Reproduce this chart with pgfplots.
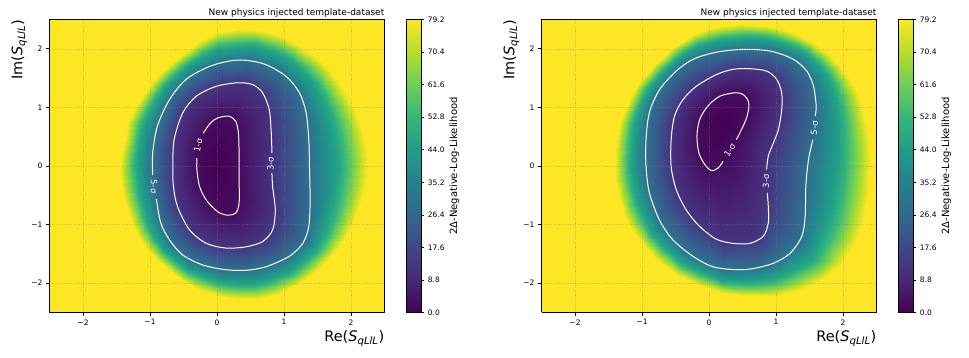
\documentclass[border=0pt]{standalone}
\usepackage{pgfplots}
\pgfplotsset{compat=1.18}
\usepackage{pgfplotstable}
\usepackage{fontspec}
\setmainfont{DejaVu Sans}

% Left panel: rings centre (0), 1-sigma (2.3), 3-sigma (11.8), 5-sigma (28.7), intermediate (47), saturation edge (79.2)
\pgfplotstableread{
x y v
0.02 0 0
0.02 0 0
0.02 0 0
0.02 0 0
0.02 0 0
0.02 0 0
0.02 0 0
0.02 0 0
0.02 0 0
0.02 0 0
0.02 0 0
0.02 0 0
0.02 0 0
0.02 0 0
0.02 0 0
0.02 0 0
0.02 0 0
0.02 0 0
0.02 0 0
0.02 0 0
0.02 0 0
0.02 0 0
0.02 0 0
0.02 0 0
0.02 0 0
0.02 0 0
0.02 0 0
0.02 0 0
0.02 0 0
0.02 0 0
0.02 0 0
0.02 0 0
0.02 0 0
0.02 0 0
0.02 0 0
0.02 0 0
0.02 0 0
0.02 0 0
0.02 0 0
0.02 0 0
0.02 0 0
0.02 0 0
0.02 0 0
0.02 0 0
0.02 0 0
0.02 0 0
0.02 0 0
0.02 0 0
0.02 0 0
0.33 0 2.3
0.33 0.0415 2.3
0.33 0.083 2.3
0.33 0.131 2.3
0.33 0.179 2.3
0.33 0.2445 2.3
0.33 0.31 2.3
0.33 0.4235 2.3
0.33 0.537 2.3
0.2825 0.6685 2.3
0.235 0.80 2.3
0.1275 0.8125 2.3
0.02 0.825 2.3
-0.0645 0.7265 2.3
-0.149 0.628 2.3
-0.195 0.5405 2.3
-0.241 0.453 2.3
-0.2625 0.3785 2.3
-0.284 0.304 2.3
-0.29 0.243 2.3
-0.296 0.182 2.3
-0.298 0.134 2.3
-0.30 0.086 2.3
-0.30 0.043 2.3
-0.30 0 2.3
-0.2985 -0.0425 2.3
-0.297 -0.085 2.3
-0.2905 -0.13 2.3
-0.284 -0.175 2.3
-0.276 -0.232 2.3
-0.268 -0.289 2.3
-0.2475 -0.358 2.3
-0.227 -0.427 2.3
-0.184 -0.5145 2.3
-0.141 -0.602 2.3
-0.0605 -0.693 2.3
0.02 -0.784 2.3
0.129 -0.799 2.3
0.238 -0.814 2.3
0.284 -0.6755 2.3
0.33 -0.537 2.3
0.33 -0.4235 2.3
0.33 -0.31 2.3
0.33 -0.2445 2.3
0.33 -0.179 2.3
0.33 -0.131 2.3
0.33 -0.083 2.3
0.33 -0.0415 2.3
0.33 0 2.3
0.80 0 11.8
0.81 0.107 11.8
0.82 0.214 11.8
0.815 0.335 11.8
0.81 0.456 11.8
0.8025 0.6155 11.8
0.795 0.775 11.8
0.749 0.979 11.8
0.703 1.183 11.8
0.55 1.2955 11.8
0.397 1.408 11.8
0.2085 1.387 11.8
0.02 1.366 11.8
-0.14 1.2805 11.8
-0.30 1.195 11.8
-0.4025 1.055 11.8
-0.505 0.915 11.8
-0.5495 0.7645 11.8
-0.594 0.614 11.8
-0.6185 0.4985 11.8
-0.643 0.383 11.8
-0.6475 0.2815 11.8
-0.652 0.18 11.8
-0.656 0.09 11.8
-0.66 0 11.8
-0.6575 -0.0905 11.8
-0.655 -0.181 11.8
-0.6495 -0.2825 11.8
-0.644 -0.384 11.8
-0.623 -0.503 11.8
-0.602 -0.622 11.8
-0.5495 -0.759 11.8
-0.497 -0.896 11.8
-0.398 -1.044 11.8
-0.299 -1.192 11.8
-0.1395 -1.271 11.8
0.02 -1.35 11.8
0.206 -1.37 11.8
0.392 -1.39 11.8
0.56 -1.308 11.8
0.728 -1.226 11.8
0.7935 -1.0325 11.8
0.859 -0.839 11.8
0.8505 -0.657 11.8
0.842 -0.475 11.8
0.833 -0.346 11.8
0.824 -0.217 11.8
0.812 -0.1085 11.8
0.80 0 11.8
1.38 0 28.7
1.376 0.181 28.7
1.372 0.362 28.7
1.357 0.5625 28.7
1.342 0.763 28.7
1.2905 0.991 28.7
1.239 1.219 28.7
1.089 1.405 28.7
0.939 1.591 28.7
0.719 1.6905 28.7
0.499 1.79 28.7
0.2595 1.764 28.7
0.02 1.738 28.7
-0.1845 1.6315 28.7
-0.389 1.525 28.7
-0.528 1.3575 28.7
-0.667 1.19 28.7
-0.7455 1.017 28.7
-0.824 0.844 28.7
-0.868 0.6905 28.7
-0.912 0.537 28.7
-0.933 0.399 28.7
-0.954 0.261 28.7
-0.957 0.1305 28.7
-0.96 0 28.7
-0.9545 -0.13 28.7
-0.949 -0.26 28.7
-0.9285 -0.3975 28.7
-0.908 -0.535 28.7
-0.8815 -0.705 28.7
-0.855 -0.875 28.7
-0.7825 -1.0675 28.7
-0.71 -1.26 28.7
-0.557 -1.42 28.7
-0.404 -1.58 28.7
-0.192 -1.662 28.7
0.02 -1.744 28.7
0.257 -1.7555 28.7
0.494 -1.767 28.7
0.721 -1.6875 28.7
0.948 -1.608 28.7
1.121 -1.441 28.7
1.294 -1.274 28.7
1.3375 -1.0295 28.7
1.381 -0.785 28.7
1.3835 -0.576 28.7
1.386 -0.367 28.7
1.383 -0.1835 28.7
1.38 0 28.7
1.815 0 47
1.806 0.2365 47
1.779 0.472 47
1.729 0.712 47
1.664 0.948 47
1.567 1.195 47
1.454 1.434 47
1.274 1.641 47
1.078 1.832 47
0.8295 1.959 47
0.571 2.058 47
0.294 2.0535 47
0.02 2.012 47
-0.219 1.881 47
-0.444 1.729 47
-0.6155 1.552 47
-0.772 1.372 47
-0.883 1.187 47
-0.983 1.003 47
-1.057 0.830 47
-1.119 0.657 47
-1.149 0.4875 47
-1.172 0.319 47
-1.1915 0.159 47
-1.205 0 47
-1.198 -0.161 47
-1.182 -0.323 47
-1.155 -0.489 47
-1.120 -0.657 47
-1.073 -0.846 47
-1.015 -1.035 47
-0.918 -1.233 47
-0.806 -1.428 47
-0.6375 -1.6015 47
-0.454 -1.767 47
-0.2235 -1.885 47
0.02 -1.984 47
0.289 -2.017 47
0.561 -2.018 47
0.821 -1.934 47
1.071 -1.821 47
1.276 -1.6415 47
1.466 -1.446 47
1.577 -1.204 47
1.672 -0.953 47
1.729 -0.7135 47
1.772 -0.470 47
1.8015 -0.236 47
1.815 0 47
2.25 0 79.2
2.236 0.292 79.2
2.186 0.581 79.2
2.101 0.861 79.2
1.985 1.133 79.2
1.843 1.399 79.2
1.669 1.649 79.2
1.459 1.877 79.2
1.216 2.072 79.2
0.940 2.228 79.2
0.643 2.326 79.2
0.328 2.343 79.2
0.02 2.285 79.2
-0.254 2.130 79.2
-0.498 1.933 79.2
-0.703 1.746 79.2
-0.876 1.553 79.2
-1.021 1.357 79.2
-1.141 1.161 79.2
-1.246 0.969 79.2
-1.325 0.776 79.2
-1.365 0.576 79.2
-1.389 0.377 79.2
-1.426 0.188 79.2
-1.45 0 79.2
-1.442 -0.192 79.2
-1.416 -0.386 79.2
-1.381 -0.581 79.2
-1.331 -0.779 79.2
-1.265 -0.987 79.2
-1.175 -1.195 79.2
-1.053 -1.399 79.2
-0.901 -1.596 79.2
-0.718 -1.783 79.2
-0.504 -1.954 79.2
-0.255 -2.108 79.2
0.02 -2.223 79.2
0.321 -2.278 79.2
0.628 -2.269 79.2
0.921 -2.180 79.2
1.194 -2.033 79.2
1.431 -1.842 79.2
1.638 -1.618 79.2
1.816 -1.378 79.2
1.963 -1.121 79.2
2.075 -0.851 79.2
2.157 -0.572 79.2
2.220 -0.288 79.2
2.25 0 79.2
}\meshL

% Right panel
\pgfplotstableread{
x y v
0.2 0.7 0
0.2 0.7 0
0.2 0.7 0
0.2 0.7 0
0.2 0.7 0
0.2 0.7 0
0.2 0.7 0
0.2 0.7 0
0.2 0.7 0
0.2 0.7 0
0.2 0.7 0
0.2 0.7 0
0.2 0.7 0
0.2 0.7 0
0.2 0.7 0
0.2 0.7 0
0.2 0.7 0
0.2 0.7 0
0.2 0.7 0
0.2 0.7 0
0.2 0.7 0
0.2 0.7 0
0.2 0.7 0
0.2 0.7 0
0.2 0.7 0
0.2 0.7 0
0.2 0.7 0
0.2 0.7 0
0.2 0.7 0
0.2 0.7 0
0.2 0.7 0
0.2 0.7 0
0.2 0.7 0
0.2 0.7 0
0.2 0.7 0
0.2 0.7 0
0.2 0.7 0
0.2 0.7 0
0.2 0.7 0
0.2 0.7 0
0.2 0.7 0
0.2 0.7 0
0.2 0.7 0
0.2 0.7 0
0.2 0.7 0
0.2 0.7 0
0.2 0.7 0
0.2 0.7 0
0.2 0.7 0
0.517 0.70 2.3
0.5335 0.7465 2.3
0.55 0.793 2.3
0.5655 0.8565 2.3
0.581 0.92 2.3
0.5855 1.005 2.3
0.59 1.09 2.3
0.5475 1.1585 2.3
0.505 1.227 2.3
0.4245 1.2325 2.3
0.344 1.238 2.3
0.272 1.219 2.3
0.2 1.2 2.3
0.1435 1.1605 2.3
0.087 1.121 2.3
0.045 1.0815 2.3
0.003 1.042 2.3
-0.0255 0.998 2.3
-0.054 0.954 2.3
-0.0755 0.913 2.3
-0.097 0.872 2.3
-0.1185 0.831 2.3
-0.14 0.79 2.3
-0.1465 0.745 2.3
-0.153 0.70 2.3
-0.16 0.651 2.3
-0.167 0.602 2.3
-0.172 0.542 2.3
-0.177 0.482 2.3
-0.1695 0.41 2.3
-0.162 0.338 2.3
-0.14 0.2435 2.3
-0.118 0.149 2.3
-0.0585 0.054 2.3
0.001 -0.041 2.3
0.1005 0.0115 2.3
0.2 0.064 2.3
0.255 0.172 2.3
0.31 0.28 2.3
0.3435 0.337 2.3
0.377 0.394 2.3
0.3995 0.436 2.3
0.422 0.478 2.3
0.4385 0.5155 2.3
0.455 0.553 2.3
0.47 0.588 2.3
0.485 0.623 2.3
0.501 0.6615 2.3
0.517 0.70 2.3
1.047 0.70 11.8
1.064 0.818 11.8
1.081 0.936 11.8
1.083 1.0735 11.8
1.085 1.211 11.8
1.04 1.353 11.8
0.995 1.495 11.8
0.8685 1.567 11.8
0.742 1.639 11.8
0.599 1.6465 11.8
0.456 1.654 11.8
0.328 1.623 11.8
0.2 1.592 11.8
0.0955 1.5365 11.8
-0.009 1.481 11.8
-0.096 1.4225 11.8
-0.183 1.364 11.8
-0.2495 1.29 11.8
-0.316 1.216 11.8
-0.369 1.1375 11.8
-0.422 1.059 11.8
-0.4605 0.973 11.8
-0.499 0.887 11.8
-0.5165 0.7935 11.8
-0.534 0.70 11.8
-0.5465 0.598 11.8
-0.559 0.496 11.8
-0.562 0.377 11.8
-0.565 0.258 11.8
-0.5605 0.101 11.8
-0.556 -0.056 11.8
-0.5115 -0.2555 11.8
-0.467 -0.455 11.8
-0.3485 -0.6795 11.8
-0.23 -0.904 11.8
-0.015 -1.0895 11.8
0.2 -1.275 11.8
0.4615 -1.2635 11.8
0.723 -1.252 11.8
0.7965 -0.856 11.8
0.87 -0.46 11.8
0.87 -0.215 11.8
0.87 0.03 11.8
0.897 0.1565 11.8
0.924 0.283 11.8
0.958 0.3855 11.8
0.992 0.488 11.8
1.0195 0.594 11.8
1.047 0.70 11.8
1.585 0.70 28.7
1.5895 0.8865 28.7
1.594 1.073 28.7
1.5575 1.2675 28.7
1.521 1.462 28.7
1.4055 1.626 28.7
1.29 1.79 28.7
1.1075 1.8725 28.7
0.925 1.955 28.7
0.735 1.9705 28.7
0.545 1.986 28.7
0.3725 1.9695 28.7
0.2 1.953 28.7
0.0435 1.91 28.7
-0.113 1.867 28.7
-0.247 1.787 28.7
-0.381 1.707 28.7
-0.486 1.599 28.7
-0.591 1.491 28.7
-0.6745 1.372 28.7
-0.758 1.253 28.7
-0.8095 1.119 28.7
-0.861 0.985 28.7
-0.887 0.8425 28.7
-0.913 0.70 28.7
-0.9265 0.5475 28.7
-0.94 0.395 28.7
-0.94 0.2185 28.7
-0.94 0.042 28.7
-0.9185 -0.1775 28.7
-0.897 -0.397 28.7
-0.8175 -0.661 28.7
-0.738 -0.925 28.7
-0.553 -1.1725 28.7
-0.368 -1.42 28.7
-0.084 -1.58 28.7
0.2 -1.74 28.7
0.521 -1.7175 28.7
0.842 -1.695 28.7
1.091 -1.4845 28.7
1.34 -1.274 28.7
1.3905 -0.9075 28.7
1.441 -0.541 28.7
1.4565 -0.2875 28.7
1.472 -0.034 28.7
1.501 0.155 28.7
1.53 0.344 28.7
1.5575 0.522 28.7
1.585 0.70 28.7
1.973 0.70 47
1.947 0.932 47
1.908 1.157 47
1.830 1.378 47
1.739 1.588 47
1.595 1.771 47
1.439 1.939 47
1.237 2.046 47
1.030 2.137 47
0.816 2.176 47
0.602 2.199 47
0.399 2.192 47
0.2 2.171 47
0.014 2.1235 47
-0.165 2.062 47
-0.321 1.964 47
-0.468 1.857 47
-0.5895 1.732 47
-0.705 1.605 47
-0.807 1.4725 47
-0.904 1.337 47
-0.973 1.187 47
-1.037 1.032 47
-1.086 0.868 47
-1.129 0.70 47
-1.152 0.520 47
-1.168 0.334 47
-1.175 0.125 47
-1.172 -0.092 47
-1.139 -0.338 47
-1.089 -0.589 47
-0.987 -0.866 47
-0.863 -1.140 47
-0.6565 -1.396 47
-0.426 -1.636 47
-0.1215 -1.809 47
0.2 -1.954 47
0.554 -1.972 47
0.911 -1.953 47
1.230 -1.799 47
1.530 -1.604 47
1.692 -1.276 47
1.819 -0.919 47
1.886 -0.608 47
1.925 -0.295 47
1.9545 -0.030 47
1.971 0.226 47
1.977 0.4665 47
1.973 0.70 47
2.36 0.70 79.2
2.304 0.978 79.2
2.221 1.241 79.2
2.103 1.488 79.2
1.957 1.714 79.2
1.784 1.916 79.2
1.587 2.087 79.2
1.367 2.220 79.2
1.134 2.318 79.2
0.897 2.381 79.2
0.659 2.412 79.2
0.426 2.415 79.2
0.2 2.389 79.2
-0.016 2.337 79.2
-0.217 2.257 79.2
-0.395 2.141 79.2
-0.554 2.006 79.2
-0.693 1.865 79.2
-0.818 1.718 79.2
-0.940 1.573 79.2
-1.049 1.421 79.2
-1.137 1.255 79.2
-1.212 1.078 79.2
-1.285 0.894 79.2
-1.344 0.70 79.2
-1.378 0.493 79.2
-1.396 0.272 79.2
-1.410 0.031 79.2
-1.403 -0.225 79.2
-1.360 -0.498 79.2
-1.28 -0.78 79.2
-1.157 -1.071 79.2
-0.987 -1.355 79.2
-0.760 -1.620 79.2
-0.484 -1.852 79.2
-0.159 -2.038 79.2
0.2 -2.167 79.2
0.587 -2.226 79.2
0.98 -2.21 79.2
1.369 -2.114 79.2
1.72 -1.933 79.2
1.994 -1.644 79.2
2.197 -1.297 79.2
2.315 -0.928 79.2
2.377 -0.556 79.2
2.408 -0.215 79.2
2.411 0.107 79.2
2.396 0.411 79.2
2.36 0.70 79.2
}\meshR

\pgfplotsset{
  nllaxis/.style={
    colormap={vir}{rgb255=(68,1,84) rgb255=(72,40,120) rgb255=(62,73,137) rgb255=(49,104,142) rgb255=(38,130,142) rgb255=(31,158,137) rgb255=(53,183,121) rgb255=(110,206,88) rgb255=(181,222,43) rgb255=(253,231,37)},
    view={0}{90},
    scale only axis, width=335pt, height=293pt,
    xmin=-2.5, xmax=2.5, ymin=-2.5, ymax=2.5, zmin=0, zmax=80,
    xtick={-2,-1,0,1,2}, ytick={-2,-1,0,1,2}, ztick=\empty,
    xticklabels={−2,−1,0,1,2}, yticklabels={−2,−1,0,1,2},
    tick label style={font=\fontsize{7.5}{9}\selectfont},
    tick align=outside, major tick length=3.5pt,
    tick style={black, line width=0.6pt},
    tick pos=left,
    grid=major,
    grid style={gray, opacity=0.35, line width=0.5pt, dash pattern=on 1.2pt off 1.2pt},
    axis on top,
    axis line style={black, line width=0.8pt},
    point meta min=0, point meta max=79.2,
    title={New physics injected template-dataset},
    every axis title/.style={at={(axis description cs:1,1)}, anchor=south east, inner sep=0pt, yshift=2pt, font=\fontsize{9}{10}\selectfont},
    xlabel={Re(\textit{S}\textsubscript{\textit{qLlL}})},
    ylabel={Im(\textit{S}\textsubscript{\textit{qLlL}})},
    every axis x label/.style={at={(axis description cs:1,-0.0614)}, anchor=north east, inner sep=0pt, font=\fontsize{14.5}{16}\selectfont},
    every axis y label/.style={at={(axis description cs:-0.0657,1)}, rotate=90, anchor=south east, inner sep=0pt, font=\fontsize{14.5}{16}\selectfont},
    colorbar,
    colorbar style={
      width=14.7pt,
      at={(parent axis.north east)}, anchor=north west, xshift=13.7pt,
      ytick={0,8.8,17.6,26.4,35.2,44,52.8,61.6,70.4,79.2},
      yticklabels={0.0,8.8,17.6,26.4,35.2,44.0,52.8,61.6,70.4,79.2},
      yticklabel style={font=\fontsize{7.5}{9}\selectfont},
      ytick pos=right,
      tick align=outside, major tick length=3pt,
      tick style={black, line width=0.6pt},
      axis line style={black, line width=0.8pt},
      ylabel={2Δ-Negative-Log-Likelihood},
      every axis y label/.style={at={(axis description cs:2.905,0.5)}, rotate=90, anchor=north, inner sep=0pt, font=\fontsize{10}{12}\selectfont},
    },
  },
  cline/.style={white, line width=1pt, smooth, tension=0.5},
}
\tikzset{clab/.style={text=white, font=\fontsize{8.5}{9}\selectfont, inner sep=0pt}}

\begin{document}
\begin{tikzpicture}
\useasboundingbox (0,0) rectangle (969pt,358pt);

% ---------------- left panel ----------------
\begin{axis}[nllaxis, at={(49.5pt,45.5pt)}, anchor=south west]
\addplot3[surf, shader=flat, mesh/rows=2, mesh/cols=2, point meta=z] coordinates {
(-2.5,-2.5,79.2) (2.5,-2.5,79.2)
(-2.5,2.5,79.2) (2.5,2.5,79.2)};
\addplot3[surf, shader=interp, mesh/rows=6, mesh/cols=49, point meta=\thisrow{v}] table[x=x, y=y, z=v] {\meshL};
% 1-sigma
\addplot3[cline] coordinates {(-0.205,0.56,0) (-0.10,0.73,0) (0.01,0.82,0) (0.18,0.85,0) (0.28,0.76,0) (0.32,0.56,0) (0.33,0.2,0) (0.33,-0.2,0) (0.33,-0.63,0) (0.28,-0.80,0) (0.16,-0.84,0) (0.01,-0.78,0) (-0.16,-0.58,0) (-0.26,-0.35,0) (-0.30,-0.06,0) (-0.30,0.14,0)};
% 3-sigma
\addplot3[cline] coordinates {(0.82,-0.12,0) (0.83,-0.35,0) (0.87,-0.75,0) (0.83,-1.09,0) (0.68,-1.29,0) (0.43,-1.38,0) (0.13,-1.40,0) (-0.16,-1.32,0) (-0.41,-1.09,0) (-0.59,-0.69,0) (-0.65,-0.35,0) (-0.66,-0.01,0) (-0.64,0.45,0) (-0.51,0.91,0) (-0.31,1.19,0) (-0.01,1.36,0) (0.31,1.42,0) (0.53,1.39,0) (0.68,1.25,0) (0.78,0.96,0) (0.81,0.56,0) (0.82,0.22,0)};
% 5-sigma
\addplot3[cline] coordinates {(-0.905,-0.56,0) (-0.84,-0.97,0) (-0.71,-1.26,0) (-0.51,-1.52,0) (-0.21,-1.69,0) (0.13,-1.77,0) (0.43,-1.78,0) (0.73,-1.72,0) (1.08,-1.54,0) (1.28,-1.32,0) (1.37,-1.03,0) (1.39,-0.58,0) (1.38,-0.01,0) (1.37,0.45,0) (1.33,0.91,0) (1.23,1.25,0) (1.03,1.53,0) (0.73,1.73,0) (0.46,1.80,0) (0.23,1.80,0) (-0.11,1.70,0) (-0.46,1.48,0) (-0.71,1.13,0) (-0.89,0.68,0) (-0.96,0.22,0) (-0.96,-0.15,0)};
\node[clab, rotate=78] at (axis cs:-0.28,0.35,0) {1-σ};
\node[clab, rotate=90] at (axis cs:0.80,0.04,0) {3-σ};
\node[clab, rotate=-90] at (axis cs:-0.94,-0.35,0) {5-σ};
\end{axis}

% ---------------- right panel ----------------
\begin{axis}[nllaxis, at={(541.5pt,45.5pt)}, anchor=south west]
\addplot3[surf, shader=flat, mesh/rows=2, mesh/cols=2, point meta=z] coordinates {
(-2.5,-2.5,79.2) (2.5,-2.5,79.2)
(-2.5,2.5,79.2) (2.5,2.5,79.2)};
\addplot3[surf, shader=interp, mesh/rows=6, mesh/cols=49, point meta=\thisrow{v}] table[x=x, y=y, z=v] {\meshR};
% 1-sigma
\addplot3[cline] coordinates {(0.41,0.45,0) (0.51,0.68,0) (0.56,0.82,0) (0.59,0.96,0) (0.59,1.10,0) (0.51,1.22,0) (0.39,1.25,0) (0.16,1.19,0) (-0.02,1.02,0) (-0.14,0.79,0) (-0.18,0.51,0) (-0.15,0.22,0) (-0.06,0.02,0) (0.04,-0.08,0) (0.14,-0.03,0) (0.21,0.08,0)};
% 3-sigma
\addplot3[cline] coordinates {(0.86,-0.06,0) (0.885,0.17,0) (0.96,0.39,0) (1.035,0.62,0) (1.085,0.96,0) (1.085,1.25,0) (1.01,1.48,0) (0.86,1.62,0) (0.61,1.66,0) (0.36,1.65,0) (0.11,1.56,0) (-0.19,1.36,0) (-0.39,1.13,0) (-0.515,0.85,0) (-0.565,0.45,0) (-0.565,-0.01,0) (-0.49,-0.40,0) (-0.34,-0.75,0) (-0.14,-1.03,0) (0.11,-1.25,0) (0.36,-1.32,0) (0.61,-1.32,0) (0.81,-1.20,0) (0.885,-0.97,0) (0.885,-0.69,0) (0.87,-0.46,0)};
% 5-sigma
\addplot3[cline] coordinates {(1.585,0.85,0) (1.60,1.02,0) (1.56,1.36,0) (1.46,1.62,0) (1.26,1.82,0) (0.96,1.95,0) (0.66,1.99,0) (0.36,1.98,0) (0.06,1.93,0) (-0.24,1.82,0) (-0.49,1.62,0) (-0.74,1.30,0) (-0.89,0.91,0) (-0.94,0.45,0) (-0.94,-0.01,0) (-0.89,-0.46,0) (-0.74,-0.92,0) (-0.54,-1.26,0) (-0.24,-1.54,0) (0.06,-1.72,0) (0.41,-1.77,0) (0.66,-1.75,0) (0.96,-1.66,0) (1.21,-1.49,0) (1.385,-1.20,0) (1.435,-0.86,0) (1.445,-0.35,0) (1.485,0.11,0) (1.55,0.45,0)};
\node[clab, rotate=58] at (axis cs:0.31,0.27,0) {1-σ};
\node[clab, rotate=90] at (axis cs:0.85,-0.26,0) {3-σ};
\node[clab, rotate=85] at (axis cs:1.575,0.65,0) {5-σ};
\end{axis}
\end{tikzpicture}
\end{document}
